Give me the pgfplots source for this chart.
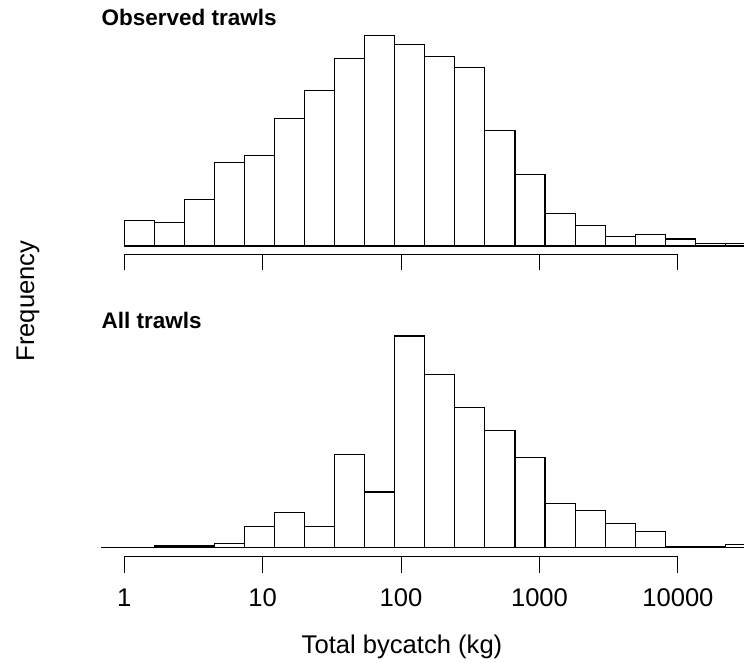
\documentclass[border=0pt]{standalone}
\usepackage{fontspec}
\setmainfont{Liberation Sans}
\usepackage{pgfplots}
\pgfplotsset{compat=1.18}
\usepackage{pgfplotstable}

% Histogram bins are 0.5 wide on the natural-log scale: edges at exp(k/2).
% Observed trawls: counts per bin, last row closes the final bin.
\pgfplotstableread{
edge        count
1.0000      11
1.6487      10
2.7183      20
4.4817      36
7.3891      39
12.1825     55
20.0855     67
33.1155     81
54.5982     91
90.0171     87
148.4132    82
244.6919    77
403.4288    50
665.1416    31
1096.6332   14
1808.0424   9
2980.9580   4
4914.7688   5
8103.0839   3
13359.7268  1
22026.4658  1
36315.5027  0
}\observed

% All trawls (same bin edges, one extra empty bin below 1 kg)
\pgfplotstableread{
edge        count
0.6065      0
1.0000      0
1.6487      8
2.7183      8
4.4817      20
7.3891      101
12.1825     168
20.0855     101
33.1155     439
54.5982     263
90.0171     1000
148.4132    817
244.6919    663
403.4288    553
665.1416    425
1096.6332   210
1808.0424   175
2980.9580   115
4914.7688   75
8103.0839   6
13359.7268  6
22026.4658  16
36315.5027  0
}\alltrawls

\begin{document}
\begin{tikzpicture}
\useasboundingbox (0pt,0pt) rectangle (744pt,663pt);

% upper panel
\begin{axis}[
  scale only axis, width=643pt, height=224.3pt,
  at={(101pt,408.7pt)}, anchor=south west,
  xmode=log, xmin=0.6787, xmax=30036,
  ymin=-3.585, ymax=93.3,
  clip mode=individual,
  axis line style={draw=none},
  ytick=\empty,
  xtick={1,10,100,1000,10000},
  xticklabels=\empty,
  xminorticks=false,
  xtick pos=bottom,
  tick align=outside,
  major tick length=16pt,
  tick style={black, line width=1.1pt}]
  \addplot[ybar interval, fill=white, draw=black, line width=1.1pt]
    table[x=edge, y=count] {\observed};
  \draw[line width=1.1pt, line cap=rect] (axis cs:1,-3.585) -- (axis cs:10000,-3.585);
\end{axis}

% lower panel
\begin{axis}[
  scale only axis, width=643pt, height=226.7pt,
  at={(101pt,106.3pt)}, anchor=south west,
  xmode=log, xmin=0.6787, xmax=30036,
  ymin=-42.5, ymax=1028.4,
  clip mode=individual,
  axis line style={draw=none},
  ytick=\empty,
  xtick={1,10,100,1000,10000},
  xticklabels={1,10,100,1000,10000},
  xminorticks=false,
  xtick pos=bottom,
  tick align=outside,
  major tick length=16pt,
  tick style={black, line width=1.1pt},
  xticklabel style={font=\fontsize{25.6}{30}\selectfont, inner sep=0pt, anchor=north},
  xticklabel shift=15.5pt]
  \addplot[ybar interval, fill=white, draw=black, line width=1.1pt]
    table[x=edge, y=count] {\alltrawls};
  \draw[line width=1.1pt, line cap=rect] (axis cs:1,-42.5) -- (axis cs:10000,-42.5);
\end{axis}

% panel titles and axis labels
\node[anchor=base west, inner sep=0pt, font=\bfseries\fontsize{22.5}{27}\selectfont]
  at (101.5pt,637pt) {Observed trawls};
\node[anchor=base west, inner sep=0pt, font=\bfseries\fontsize{22.5}{27}\selectfont]
  at (101.5pt,334.7pt) {All trawls};
\node[anchor=base, inner sep=0pt, rotate=90, font=\fontsize{25.6}{30}\selectfont]
  at (34pt,362pt) {Frequency};
\node[anchor=base, inner sep=0pt, font=\fontsize{25.6}{30}\selectfont]
  at (402pt,9.5pt) {Total bycatch (kg)};
\end{tikzpicture}
\end{document}
